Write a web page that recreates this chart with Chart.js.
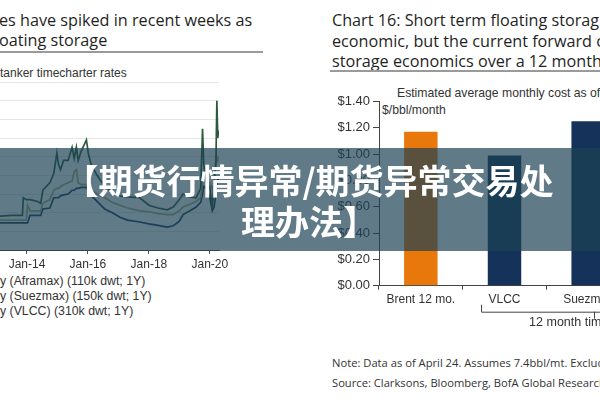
<!DOCTYPE html>
<html><head><meta charset="utf-8">
<script src="https://cdn.jsdelivr.net/npm/chart.js@4.4.1/dist/chart.umd.min.js"></script>
<style>
html,body{margin:0;padding:0;width:600px;height:400px;overflow:hidden;background:#fff;}
body{position:relative;}
.t{position:absolute;white-space:nowrap;font-family:"Open Sans",sans-serif;color:#1f1f1f;}
.a{position:absolute;white-space:nowrap;font-family:"Liberation Sans",Arial,sans-serif;color:#333;}
.rule{position:absolute;height:2px;background:#9a9a9a;}
#lc{position:absolute;left:0;top:82px;}
#rc{position:absolute;left:330px;top:90px;}
#banner{position:absolute;left:0;top:148px;width:600px;height:103px;background:rgba(28,66,84,0.70);z-index:10;}
#bt{position:absolute;left:0;top:11px;width:618px;text-align:center;font-family:"Noto Sans CJK SC",sans-serif;font-weight:700;font-size:34px;line-height:41px;color:#fff;white-space:nowrap;}
</style>
</head><body>
<div class="t" style="left:-1px;top:10px;font-size:16.2px;line-height:20px;">es have spiked in recent weeks as<br>oating storage</div>
<div class="rule" style="left:0;top:51px;width:263px;"></div>
<div class="a" style="left:0;top:66px;font-size:12px;line-height:14px;">tanker timecharter rates</div>

<div class="t" style="left:332px;top:10px;font-size:16.2px;line-height:20.5px;">Chart 16: Short term floating storage is<br>economic, but the current forward curve<br>storage economics over a 12 month period</div>
<div class="rule" style="left:330px;top:70px;width:270px;"></div>
<div class="a" style="left:397px;top:86px;font-size:12.2px;line-height:14px;">Estimated average monthly cost as of April 24</div>
<div class="a" style="left:382px;top:103px;font-size:12.2px;line-height:14px;">$/bbl/month</div>

<canvas id="lc" width="260" height="190"></canvas>
<canvas id="rc" width="300" height="250"></canvas>

<div class="a" style="left:0;top:274px;font-size:12.3px;line-height:15px;">y (Aframax) (110k dwt; 1Y)<br>y (Suezmax) (150k dwt; 1Y)<br>y (VLCC) (310k dwt; 1Y)</div>

<div class="t" style="left:332px;top:353px;font-size:11.2px;line-height:20px;color:#333;">Note: Data as of April 24. Assumes 7.4bbl/mt. Excludes port costs<br>Source: Clarksons, Bloomberg, BofA Global Research</div>

<div id="banner"><div id="bt">【期货行情异常/期货异常交易处<br>理办法】</div></div>

<script>
// ---- Left chart: tanker 1Y timecharter rates ($'000/day) ----
const dates = [2012.9,2013.5,2013.85,2013.88,2013.98,2014.02,2014.1,2014.35,2014.45,2014.52,2014.75,2014.88,2014.98,2015.03,2015.1,2015.2,2015.35,2015.48,2015.55,2015.62,2015.68,2015.78,2015.95,2016.02,2016.12,2016.3,2016.55,2016.8,2017.05,2017.3,2017.7,2018.0,2018.3,2018.6,2018.8,2019.0,2019.12,2019.35,2019.55,2019.7,2019.76,2019.8,2019.88,2020.0,2020.08,2020.14,2020.2,2020.23,2020.26,2020.29];
const vlcc     = [18,18.5,18.5,28,27,27,27,26,25,32,36,41,52,46,43,48,48,55,49,55,48,53,59,51,45,40,34,31,29,28.5,28,24,22.5,21.5,23,27,30,28.5,28,33,65,46,36,34,22,37,48,80,60,64];
const suezmax  = [16,16,16,16,16,24,21,21,21,25,27,32,33,33,34,35,36,37,42,43,36,35,35,34,32,30,28,25.5,24,22.5,21,20.5,19.5,19,19,21,23,24.5,26,28,36,40,38,36,33,35,44,50,48,50];
const aframax  = [14.5,14.5,14.5,14.5,14.5,14.5,18.5,18.5,18.5,22,22.5,28,28,28,29,29.5,30,32,32,33,33,33.5,33.5,31,29,26,22,20,17.5,16,15,14,13.2,12.3,13,15.5,19,21,23,25.5,30,34,33,28,21,23,30,36,38,37];
const yearTicks = [2014,2016,2018,2020];

// ---- Right chart: estimated monthly floating storage cost ----
const categories = ['Brent 12 mo.','VLCC','Suezmax'];
const costs = [1.17,0.99,1.25];
const costTicksMax = 1.4;

const pts = arr => arr.map((v,i)=>({x:dates[i],y:v}));

new Chart(document.getElementById('lc'),{
  type:'line',
  data:{datasets:[
    {label:'VLCC',data:pts(vlcc),borderColor:'#2c5a3a',borderWidth:1.7},
    {label:'Suezmax',data:pts(suezmax),borderColor:'#a7b27c',borderWidth:1.7},
    {label:'Aframax',data:pts(aframax),borderColor:'#183a5c',borderWidth:1.7}
  ]},
  options:{
    responsive:false,animation:false,
    layout:{padding:{left:0,right:41,top:0,bottom:0}},
    plugins:{legend:{display:false},tooltip:{enabled:false}},
    elements:{point:{radius:0},line:{tension:0}},
    scales:{
      x:{type:'linear',min:2013.115,max:2020.3,
        afterBuildTicks:s=>{s.ticks=yearTicks.map(v=>({value:v}));},
        ticks:{callback:v=>'Jan-'+String(v).slice(2),font:{family:'Liberation Sans',size:12},color:'#333',padding:3,maxRotation:0,autoSkip:false},
        grid:{drawOnChartArea:false,tickLength:4,color:'#555'},
        border:{color:'#555',width:1},
        afterFit:s=>{s.height=22;}},
      y:{min:0,max:90,ticks:{display:false,stepSize:10},
        grid:{color:'#e6e6e6',drawTicks:false},
        border:{display:false},
        afterFit:s=>{s.width=0;}}
    }
  }
});

const bracket = {
  id:'bracket',
  afterDraw(chart){
    const xs = chart.scales.x, c = chart.ctx;
    const w = xs.getPixelForValue(1)-xs.getPixelForValue(0);
    const left = xs.getPixelForValue(1)-0.28*w;
    const mid = xs.getPixelForValue(2)+0.07*w;
    const right = mid + (mid-left);
    const yb = xs.top + 26;
    c.save();
    c.strokeStyle='#444';c.lineWidth=1;
    c.beginPath();
    c.moveTo(left+0.5,yb-7);c.lineTo(left+0.5,yb+0.5);c.lineTo(right,yb+0.5);
    c.moveTo(mid+0.5,yb);c.lineTo(mid+0.5,yb+7);
    c.stroke();
    c.fillStyle='#333';c.font='12.5px "Liberation Sans", Arial';
    c.textAlign='center';c.textBaseline='middle';
    c.fillText('12 month timecharter',xs.getPixelForValue(2),yb+11);
    c.restore();
  }
};

new Chart(document.getElementById('rc'),{
  type:'bar',
  data:{labels:categories,datasets:[{data:costs,backgroundColor:['#e8770c','#15335a','#15335a'],barPercentage:0.4,categoryPercentage:1}]},
  options:{
    responsive:false,animation:false,
    layout:{padding:{top:11.5,bottom:0.3,left:0,right:0}},
    plugins:{legend:{display:false},tooltip:{enabled:false}},
    scales:{
      x:{grid:{drawOnChartArea:false,tickLength:4,color:'#444',offset:true},
        border:{color:'#444'},
        ticks:{font:{family:'Liberation Sans',size:12},color:'#333',padding:3,maxRotation:0,autoSkip:false},
        afterFit:s=>{s.height=54;}},
      y:{min:0,max:costTicksMax,
        ticks:{stepSize:0.2,callback:v=>'$'+v.toFixed(2),font:{family:'Liberation Sans',size:13},color:'#333',padding:3},
        grid:{drawOnChartArea:false,tickLength:6,color:'#444'},
        border:{color:'#444'},
        afterFit:s=>{s.width=49;}}
    }
  },
  plugins:[bracket]
});
</script>
</body></html>
